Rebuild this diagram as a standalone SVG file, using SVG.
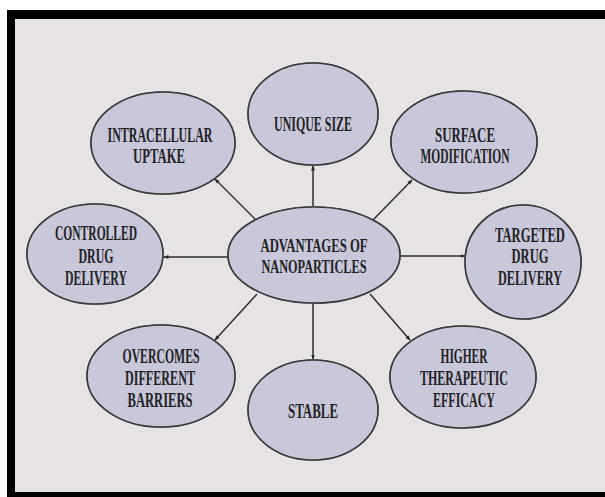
<svg xmlns="http://www.w3.org/2000/svg" width="605" height="497" viewBox="0 0 605 497">
<defs>
<marker id="ah" viewBox="0 0 10 10" refX="9" refY="5" markerWidth="5" markerHeight="5" orient="auto" markerUnits="userSpaceOnUse">
<path d="M0,1 L10,5 L0,9 z" fill="#2a2a2a"/>
</marker>
<style>
.node ellipse{fill:#c8c8da;stroke:#3a3a3a;stroke-width:1.6}
.halo{fill:none;stroke:#f6f6f6;stroke-width:5;opacity:0.8}
.lbl{font-family:"Liberation Serif","DejaVu Serif",serif;font-weight:bold;font-size:20px;fill:#222;text-anchor:middle}
.sm{font-size:18px}
.conn line{stroke:#2e2e2e;stroke-width:1.5;marker-end:url(#ah)}
</style>
</defs>
<rect x="0" y="0" width="605" height="497" fill="#ffffff"/>
<rect x="15" y="19" width="590" height="473" fill="#e7e3e4"/>
<rect x="7" y="10" width="598" height="9" fill="#000"/>
<rect x="7" y="10" width="8" height="487" fill="#000"/>
<rect x="7" y="492" width="598" height="5" fill="#000"/>

<g id="connectors" class="conn">
<line x1="313" y1="206" x2="313" y2="166"/>
<line x1="256" y1="220" x2="215" y2="179"/>
<line x1="373" y1="220" x2="412" y2="180"/>
<line x1="228" y1="257" x2="164" y2="257"/>
<line x1="400" y1="256" x2="465" y2="256"/>
<line x1="257" y1="294" x2="215" y2="340"/>
<line x1="313" y1="303" x2="313" y2="359"/>
<line x1="370" y1="294" x2="410" y2="340"/>
</g>

<g id="unique-size" class="node">
<ellipse class="halo" cx="313" cy="114" rx="65" ry="51"/>
<ellipse cx="313" cy="114" rx="65" ry="51"/>
<text class="lbl" x="313" y="131" textLength="78" lengthAdjust="spacingAndGlyphs">UNIQUE SIZE</text>
</g>

<g id="intracellular-uptake" class="node">
<ellipse class="halo" cx="163" cy="143" rx="72" ry="51"/>
<ellipse cx="163" cy="143" rx="72" ry="51"/>
<text class="lbl" x="160" y="142" textLength="105" lengthAdjust="spacingAndGlyphs">INTRACELLULAR</text>
<text class="lbl" x="159" y="163" textLength="52" lengthAdjust="spacingAndGlyphs">UPTAKE</text>
</g>

<g id="surface-modification" class="node">
<ellipse class="halo" cx="464" cy="142" rx="73" ry="51"/>
<ellipse cx="464" cy="142" rx="73" ry="51"/>
<text class="lbl" x="465" y="142" textLength="60" lengthAdjust="spacingAndGlyphs">SURFACE</text>
<text class="lbl" x="465" y="163" textLength="89" lengthAdjust="spacingAndGlyphs">MODIFICATION</text>
</g>

<g id="controlled-drug-delivery" class="node">
<ellipse class="halo" cx="95" cy="254" rx="68" ry="50"/>
<ellipse cx="95" cy="254" rx="68" ry="50"/>
<text class="lbl" x="96" y="240" textLength="82" lengthAdjust="spacingAndGlyphs">CONTROLLED</text>
<text class="lbl" x="96" y="263" textLength="35" lengthAdjust="spacingAndGlyphs">DRUG</text>
<text class="lbl" x="96" y="285" textLength="62" lengthAdjust="spacingAndGlyphs">DELIVERY</text>
</g>

<g id="advantages" class="node">
<ellipse class="halo" cx="314" cy="255" rx="86" ry="48"/>
<ellipse cx="314" cy="255" rx="86" ry="48"/>
<text class="lbl sm" x="314" y="252" textLength="107" lengthAdjust="spacingAndGlyphs">ADVANTAGES OF</text>
<text class="lbl sm" x="314" y="273" textLength="105" lengthAdjust="spacingAndGlyphs">NANOPARTICLES</text>
</g>

<g id="targeted-drug-delivery" class="node">
<ellipse class="halo" cx="523" cy="262" rx="58" ry="57"/>
<ellipse cx="523" cy="262" rx="58" ry="57"/>
<text class="lbl" x="530" y="242" textLength="70" lengthAdjust="spacingAndGlyphs">TARGETED</text>
<text class="lbl" x="530" y="263" textLength="37" lengthAdjust="spacingAndGlyphs">DRUG</text>
<text class="lbl" x="530" y="285" textLength="64" lengthAdjust="spacingAndGlyphs">DELIVERY</text>
</g>

<g id="overcomes-different-barriers" class="node">
<ellipse class="halo" cx="161" cy="376" rx="74" ry="51"/>
<ellipse cx="161" cy="376" rx="74" ry="51"/>
<text class="lbl" x="161" y="363" textLength="77" lengthAdjust="spacingAndGlyphs">OVERCOMES</text>
<text class="lbl" x="160" y="385" textLength="70" lengthAdjust="spacingAndGlyphs">DIFFERENT</text>
<text class="lbl" x="160" y="407" textLength="65" lengthAdjust="spacingAndGlyphs">BARRIERS</text>
</g>

<g id="stable" class="node">
<ellipse class="halo" cx="313" cy="410" rx="65" ry="50"/>
<ellipse cx="313" cy="410" rx="65" ry="50"/>
<text class="lbl" x="313" y="418" textLength="50" lengthAdjust="spacingAndGlyphs">STABLE</text>
</g>

<g id="higher-therapeutic-efficacy" class="node">
<ellipse class="halo" cx="463" cy="377" rx="73" ry="51"/>
<ellipse cx="463" cy="377" rx="73" ry="51"/>
<text class="lbl" x="464" y="363" textLength="47" lengthAdjust="spacingAndGlyphs">HIGHER</text>
<text class="lbl" x="464" y="385" textLength="88" lengthAdjust="spacingAndGlyphs">THERAPEUTIC</text>
<text class="lbl" x="464" y="407" textLength="62" lengthAdjust="spacingAndGlyphs">EFFICACY</text>
</g>
</svg>
